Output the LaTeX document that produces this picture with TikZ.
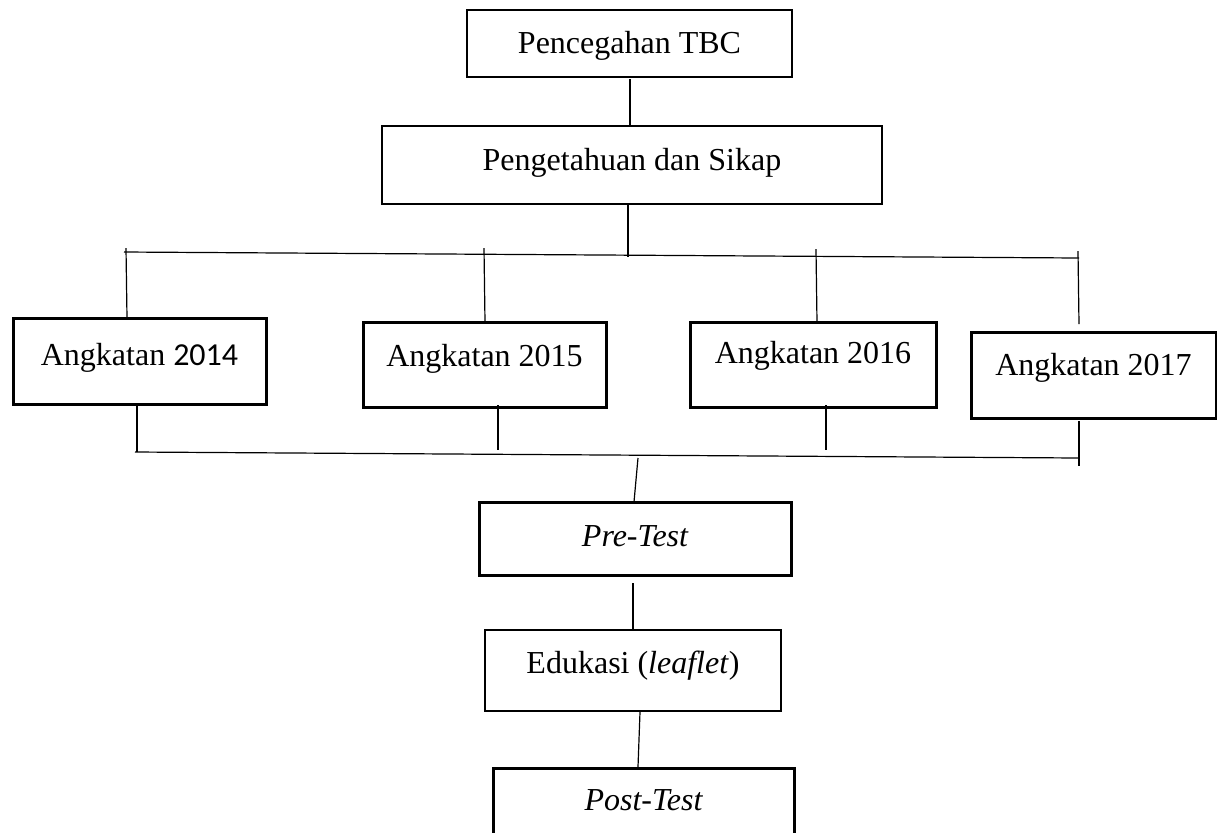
\documentclass[tikz,border=0pt]{standalone}
\usepackage{fontspec}
\setmainfont{Liberation Serif}
\newfontfamily\calfont{Carlito}
\begin{document}
\begin{tikzpicture}[x=0.5pt,y=-0.5pt,
  bx/.style={draw=black, inner sep=0pt, font=\fontsize{16}{19}\selectfont, text height=16pt},
  thickbox/.style={bx, line width=1.5pt},
  medbox/.style={bx, line width=1pt},
  thinbox/.style={bx, line width=0.8pt},
  conn/.style={draw=black, line width=0.6pt}]
\clip (0,0) rectangle (1217,832);
\fill[white] (0,0) rectangle (1217,832);
% boxes
\node[medbox, minimum width=162.5pt, minimum height=33.5pt, text depth=6.5pt] (pc) at (629.5,43.5) {Pencegahan TBC};
\node[thinbox, minimum width=250pt, minimum height=39pt, text depth=11pt] (pg) at (632,165) {Pengetahuan dan Sikap};
\node[thickbox, minimum width=126.5pt, minimum height=43pt, text depth=12pt] (a14) at (139.5,361) {Angkatan {\calfont 2014}};
\node[thickbox, minimum width=121.5pt, minimum height=42.5pt, text depth=14.5pt] (a15) at (484.5,364.5) {Angkatan 2015};
\node[thickbox, minimum width=123pt, minimum height=42.5pt, text depth=17.5pt] (a16) at (813,364.5) {Angkatan 2016};
\node[thickbox, minimum width=122.5pt, minimum height=43pt, text depth=16pt] (a17) at (1093.5,375) {Angkatan 2017};
\node[thickbox, minimum width=156pt, minimum height=36.5pt, text depth=8.5pt] (pre) at (635,538.5) {\itshape Pre-Test};
\node[thinbox, minimum width=148pt, minimum height=40.5pt, text depth=13.5pt] (edu) at (633,670.5) {Edukasi (\textit{leaflet})};
\node[thickbox, minimum width=150.5pt, minimum height=41pt, text depth=15pt] (post) at (643.5,809) {\itshape Post-Test};
% connector end points
\coordinate (c1a) at (630,79);   \coordinate (c1b) at (630,125);
\coordinate (c2a) at (628,205);  \coordinate (c2b) at (628,257);
\coordinate (hl) at (124,252);   \coordinate (hr) at (1079,258);
\coordinate (d14a) at (126,248); \coordinate (d14b) at (127,318);
\coordinate (d15a) at (484,248); \coordinate (d15b) at (485,322);
\coordinate (d16a) at (816,249); \coordinate (d16b) at (817,322);
\coordinate (d17a) at (1078,251); \coordinate (d17b) at (1079,324);
\coordinate (u14a) at (137,404); \coordinate (u14b) at (137,452);
\coordinate (u15a) at (498,405); \coordinate (u15b) at (498,450);
\coordinate (u16a) at (826,405); \coordinate (u16b) at (826,450);
\coordinate (u17a) at (1079,421); \coordinate (u17b) at (1079,466);
\coordinate (bl) at (135,452);   \coordinate (br) at (1079,458);
\coordinate (s1a) at (638,458);  \coordinate (s1b) at (634,502);
\coordinate (s2a) at (633,583);  \coordinate (s2b) at (633,630);
\coordinate (s3a) at (640,712);  \coordinate (s3b) at (638,767);
% connectors
\draw[conn] (c1a) -- (c1b);
\draw[conn] (c2a) -- (c2b);
\draw[conn] (hl) -- (hr);
\draw[conn] (d14a) -- (d14b);
\draw[conn] (d15a) -- (d15b);
\draw[conn] (d16a) -- (d16b);
\draw[conn] (d17a) -- (d17b);
\draw[conn] (u14a) -- (u14b);
\draw[conn] (u15a) -- (u15b);
\draw[conn] (u16a) -- (u16b);
\draw[conn] (u17a) -- (u17b);
\draw[conn] (bl) -- (br);
\draw[conn] (s1a) -- (s1b);
\draw[conn] (s2a) -- (s2b);
\draw[conn] (s3a) -- (s3b);
\end{tikzpicture}
\end{document}
